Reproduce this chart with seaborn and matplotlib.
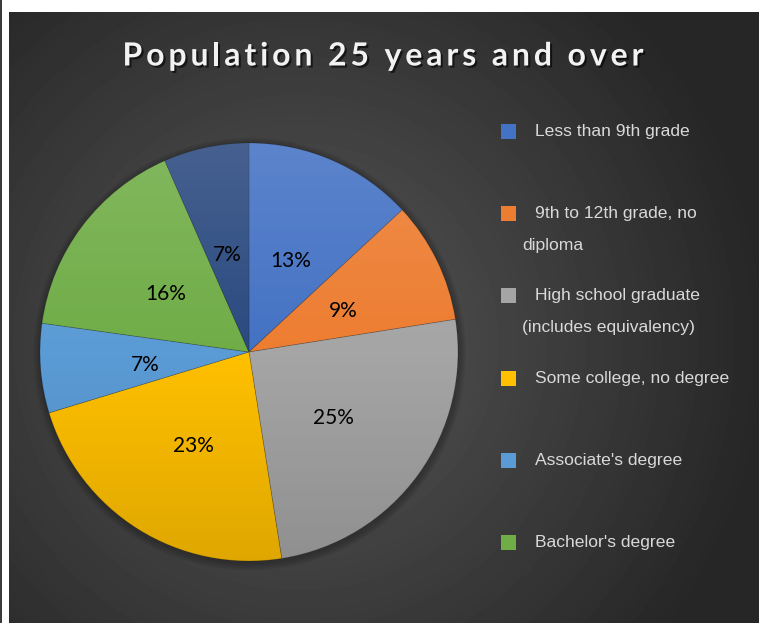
import numpy as np
import matplotlib
matplotlib.use("Agg")
import matplotlib.pyplot as plt
import matplotlib.patheffects as pe
import matplotlib.transforms as mtransforms
from matplotlib import font_manager
from matplotlib.ft2font import FT2Font
from matplotlib.patches import Rectangle, Circle
import seaborn as sns

# data (share of population 25+, in %)
categories = [
    "Less than 9th grade",
    "9th to 12th grade, no\ndiploma",
    "High school graduate\n(includes equivalency)",
    "Some college, no degree",
    "Associate's degree",
    "Bachelor's degree",
    "Graduate or professional degree",
]
shares = [13.1, 9.4, 25.0, 22.8, 6.9, 16.2, 6.6]
slice_colors = ["#4472C4", "#ED7D31", "#A5A5A5", "#FFC000", "#5B9BD5", "#70AD47", "#2B4A80"]
title = "Population 25 years and over"

sns.set_theme(style="white")
palette = sns.color_palette(slice_colors)

W, H = 763, 623
fig = plt.figure(figsize=(W / 100, H / 100), dpi=100)
fig.patch.set_facecolor("white")

# thin dark line on the far left
fig.add_artist(Rectangle((0, 0), 2 / W, 1, transform=fig.transFigure,
                         facecolor="#3c3c3c", edgecolor="none"))

# dark panel with radial gradient
pw, ph = 750, 611
bg = fig.add_axes([9 / W, 0, pw / W, ph / H])
yy, xx = np.mgrid[0:ph, 0:pw]
d = np.hypot(xx - 290, yy - 330) / 470
d = np.clip(d, 0, 1) ** 1.1
val = (0x55 - (0x55 - 0x26) * d) / 255
bg.imshow(val, cmap="gray", vmin=0, vmax=1, aspect="auto", interpolation="bilinear")
bg.set_axis_off()

# pie
ax = fig.add_axes([40 / W, 62 / H, 418 / W, 418 / H])
ax.set_axis_off()

# soft shadow under the pie
for k in range(5):
    ax.add_patch(Circle((0.003, -0.01), 1.0 + 0.007 * (k + 1), facecolor="black",
                        alpha=0.05, edgecolor="none", zorder=0, clip_on=False))

wedges, texts, autotexts = ax.pie(
    shares, colors=palette, startangle=90, counterclock=False, radius=1,
    autopct=lambda p: f"{p:.0f}%", pctdistance=0.5,
    wedgeprops=dict(linewidth=0.6, edgecolor="#00000030"),
    textprops=dict(color="black", fontsize=15, family="Lato"),
)
for w in wedges:
    w.set_zorder(1)

# light-to-dark vertical shading over the pie
grad = np.zeros((256, 1, 4))
t = np.linspace(0, 1, 256)
grad[:, 0, :3] = np.where(t[:, None] < 0.5, 1.0, 0.0)
grad[:, 0, 3] = np.abs(t - 0.5) * 2 * 0.13
im = ax.imshow(grad, extent=(-1, 1, -1, 1), aspect="auto", zorder=2,
               interpolation="bilinear")
im.set_clip_path(Circle((0, 0), 1, transform=ax.transData))
nudge = mtransforms.ScaledTranslation(0, -3 / 100, fig.dpi_scale_trans)
for a in autotexts:
    a.set_zorder(3)
    a.set_va("center_baseline")
    a.set_transform(a.get_transform() + nudge)
ax.set_xlim(-1, 1)
ax.set_ylim(-1, 1)
ax.set_aspect("equal")

# title, with Excel-like letter spacing
tsize = 23
tfont = FT2Font(font_manager.findfont(font_manager.FontProperties(family="Lato", weight="bold")))
tfont.set_size(tsize, 100)
adv = [tfont.load_char(ord(c)).linearHoriAdvance / 65536 for c in title]
target_w = 521
spacing = (target_w - sum(adv)) / (len(title) - 1)
x = 383 - target_w / 2
shadow = [pe.SimplePatchShadow(offset=(1.5, -1.5), shadow_rgbFace="black", alpha=0.6), pe.Normal()]
for c, a in zip(title, adv):
    fig.text(x / W, 1 - 56 / H, c, ha="left", va="center", fontsize=tsize,
             fontweight="bold", family="Lato", color="#f2f2f2", path_effects=shadow)
    x += a + spacing

# legend (Excel-style, fixed slot per entry; last entry falls off the panel)
y0, step = 131.5, 82.2
for i, (lab, col) in enumerate(zip(categories, palette)):
    yc = y0 + i * step
    if yc > H - 10:
        break
    fig.add_artist(Rectangle((501 / W, 1 - (yc + 7.5) / H), 15 / W, 15 / H,
                             transform=fig.transFigure, facecolor=col, edgecolor="none"))
    for j, line in enumerate(lab.split("\n")):
        lx = 535 if j == 0 else 522
        fig.text(lx / W, 1 - (yc + 32 * j) / H, line, ha="left", va="center",
                 fontsize=12.6, family="Liberation Sans", color="#d9d9d9")

fig.savefig("out.png", dpi=100)
